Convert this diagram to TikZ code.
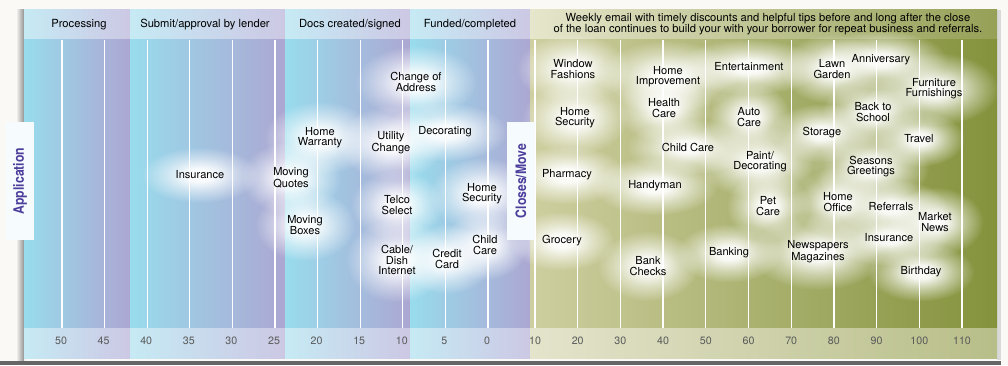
\documentclass[tikz,border=0pt]{standalone}
\usepackage{fontspec}
\setmainfont{TeX Gyre Heros}
\usetikzlibrary{shapes.geometric,fit,fadings}
\definecolor{pagebg}{RGB}{250,249,246}
\definecolor{hdrcyan}{RGB}{198,234,244}
\definecolor{hdrlav}{RGB}{204,200,228}
\definecolor{bodycyan}{RGB}{152,220,237}
\definecolor{bodylav}{RGB}{172,167,210}
\definecolor{hdrkhaki}{RGB}{230,230,204}
\definecolor{hdrolive}{RGB}{150,160,86}
\definecolor{bodykhaki}{RGB}{206,207,160}
\definecolor{bodyolive}{RGB}{132,146,60}
\definecolor{ftrkhaki}{RGB}{228,228,204}
\definecolor{ftrolive}{RGB}{184,190,136}
\definecolor{sidepurple}{RGB}{76,62,156}
\definecolor{numgray}{RGB}{90,90,90}
\definecolor{sidewhite}{RGB}{246,251,253}
\pgfdeclareradialshading{glowshade}{\pgfpointorigin}{rgb(0bp)=(1,1,1);rgb(6bp)=(0.92,0.92,0.92);rgb(15bp)=(0.45,0.45,0.45);rgb(25bp)=(0,0,0);rgb(50bp)=(0,0,0)}
\pgfdeclarefading{glow}{\pgfuseshading{glowshade}}
\pgfdeclarelayer{front}
\pgfsetlayers{main,front}
\begin{document}
\begin{tikzpicture}[x=0.75pt,y=-0.75pt,
  tag/.style={align=center,inner sep=0pt,text=black,font=\fontsize{8.3}{7.6}\selectfont},
  cloud/.style={ellipse,fill=white,path fading=glow,inner xsep=13pt,inner ysep=11.5pt},
  rule/.style={white,line width=1pt},
  tick/.style={text=numgray,font=\fontsize{8}{9}\selectfont},
  stage/.style={align=center,font=\fontsize{8.4}{8.3}\selectfont},
  sidebox/.style={rotate=90,fill=sidewhite,minimum width=88.5pt,minimum height=21pt,inner sep=0pt,
    text=sidepurple,font=\fontsize{10.8}{12}\selectfont\bfseries}]
\useasboundingbox (0,0) rectangle (1008,365);
\fill[pagebg] (0,0) rectangle (1008,365);
\shade[left color=pagebg,right color=gray!85] (16,9.5) rectangle (24,360);
\fill[gray!30] (997,9.5) rectangle (1001,360);
\fill[black!60] (0,360.5) rectangle (1001,364.5);
\foreach \a/\b in {24/130,130/285,285/410,410/530}{
  \shade[left color=hdrcyan,right color=hdrlav] (\a,9.5) rectangle (\b,39.5);
  \shade[left color=bodycyan,right color=bodylav] (\a,39.5) rectangle (\b,328);
  \shade[left color=hdrcyan,right color=hdrlav] (\a,328) rectangle (\b,358);
}
\shade[left color=hdrkhaki,right color=hdrolive] (530,9.5) rectangle (997,39.5);
\shade[left color=bodykhaki,right color=bodyolive] (530,39.5) rectangle (997,328);
\shade[left color=ftrkhaki,right color=ftrolive] (530,328) rectangle (997,358);
\foreach \i in {0,...,10}{
  \draw[rule] ({62+42.6*\i},39.5) -- ({62+42.6*\i},328);
  \draw[rule] ({535+42.7*\i},39.5) -- ({535+42.7*\i},328);
}
\begin{pgfonlayer}{front}
\node[stage] (hProc) at (79,25) {Processing};
\node[stage] (hSubm) at (205,25) {Submit/approval by lender};
\node[stage] (hDocs) at (350,25) {Docs created/signed};
\node[stage] (hFund) at (470,25) {Funded/completed};
\node[stage] (hWeek) at (768,24) {Weekly email with timely discounts and helpful tips before and long after the close\\of the loan continues to build your with your borrower for repeat business and referrals.};
\foreach \v [count=\i from 0] in {50,45,...,0}
  \node[tick] (nl\i) at ({61+42.6*\i},341) {\v};
\foreach \v [count=\i from 0] in {10,20,...,110}
  \node[tick] (nr\i) at ({535+42.7*\i},341) {\v};
\node[sidebox] (appl) at (20,181) {\scalebox{0.85}[1]{Application}};
\node[sidebox] (clos) at (521,181) {\scalebox{0.85}[1]{Closes/Move}};
\node[tag] (insA) at (200,175) {Insurance};
\node[tag] (movQ) at (291,178) {Moving\\Quotes};
\node[tag] (homW) at (320,138) {Home\\Warranty};
\node[tag] (movB) at (305,225) {Moving\\Boxes};
\node[tag] (chgA) at (416,82) {Change of\\Address};
\node[tag] (utlC) at (391,143) {Utility\\Change};
\node[tag] (decA) at (445,132) {Decorating};
\node[tag] (telS) at (397,205) {Telco\\Select};
\node[tag] (homSA) at (482,194) {Home\\Security};
\node[tag] (cabD) at (397,260) {Cable/\\Dish\\Internet};
\node[tag] (crdC) at (447,259) {Credit\\Card};
\node[tag] (chdCA) at (485,245) {Child\\Care};
\node[tag] (winF) at (573,69) {Window\\Fashions};
\node[tag] (homI) at (668,77) {Home\\Improvement};
\node[tag] (entm) at (749,67) {Entertainment};
\node[tag] (homSB) at (575,118) {Home\\Security};
\node[tag] (hlthC) at (664,108) {Health\\Care};
\node[tag] (autoC) at (749,117) {Auto\\Care};
\node[tag] (chdCB) at (688,147) {Child Care};
\node[tag] (pntD) at (760,162) {Paint/\\Decorating};
\node[tag] (phar) at (567,175) {Pharmacy};
\node[tag] (hndy) at (655,186) {Handyman};
\node[tag] (petC) at (768,206) {Pet\\Care};
\node[tag] (groc) at (562,241) {Grocery};
\node[tag] (bnkC) at (648,266) {Bank\\Checks};
\node[tag] (bank) at (729,253) {Banking};
\node[tag] (lawG) at (832,69) {Lawn\\Garden};
\node[tag] (anniv) at (881,60) {Anniversary};
\node[tag] (furn) at (934,89) {Furniture\\Furnishings};
\node[tag] (bkSc) at (873,112) {Back to\\School};
\node[tag] (stor) at (822,133) {Storage};
\node[tag] (trvl) at (919,139) {Travel};
\node[tag] (seaG) at (871,167) {Seasons\\Greetings};
\node[tag] (homO) at (838,202) {Home\\Office};
\node[tag] (refr) at (891,207) {Referrals};
\node[tag] (mktN) at (935,222) {Market\\News};
\node[tag] (insB) at (889,238) {Insurance};
\node[tag] (newsM) at (818,252) {Newspapers\\Magazines};
\node[tag] (bday) at (921,272) {Birthday};
\end{pgfonlayer}
\foreach \n in {insA,movQ,homW,movB,chgA,utlC,decA,telS,homSA,cabD,crdC,chdCA,
  winF,homI,entm,homSB,hlthC,autoC,chdCB,pntD,phar,hndy,petC,groc,bnkC,bank,
  lawG,anniv,furn,bkSc,stor,trvl,seaG,homO,refr,mktN,insB,newsM,bday}
  \node[cloud,fit=(\n)] {};
\end{tikzpicture}
\end{document}
